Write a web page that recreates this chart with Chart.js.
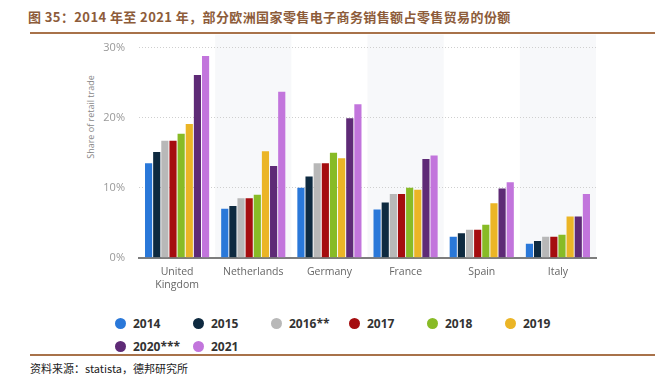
<!DOCTYPE html>
<html>
<head>
<meta charset="utf-8">
<script src="https://cdn.jsdelivr.net/npm/chart.js@4.4.0/dist/chart.umd.min.js"></script>
<style>
	body { margin: 0; width: 660px; height: 377px; background: #fff; position: relative; overflow: hidden; font-family: "Open Sans", sans-serif; }
	#title { position: absolute; left: 28px; top: 7px; font: bold 13px "Noto Sans CJK SC", sans-serif; color: #8d5c3a; letter-spacing: 0.4px; }
	.rule { position: absolute; left: 30px; width: 625px; height: 2px; background: #a8724a; }
	#box { position: absolute; left: 75px; top: 27px; width: 540px; height: 264px; }
	#ytitle { position: absolute; left: 90px; top: 117px; transform: translate(-50%, -50%) rotate(-90deg); font-size: 9px; color: #888; white-space: nowrap; }
	#legend { position: absolute; left: 115px; top: 315px; width: 480px; }
	.item { display: inline-block; width: 78px; height: 23px; font-weight: bold; font-size: 12px; color: #333; vertical-align: top; white-space: nowrap; }
	.dot { display: inline-block; width: 11px; height: 11px; border-radius: 50%; margin-right: 7px; vertical-align: -1px; }
	#source { position: absolute; left: 30px; top: 360px; font: 11px "Noto Sans CJK SC", sans-serif; color: #222; }
</style>
</head>
<body>
<div id="title">图 35：2014 年至 2021 年，部分欧洲国家零售电子商务销售额占零售贸易的份额</div>
<div class="rule" style="top:32px"></div>
<div id="ytitle">Share of retail trade</div>
<div id="box"><canvas id="chart"></canvas></div>
<div id="legend"></div>
<div class="rule" style="top:354px; height:1.5px"></div>
<div id="source">资料来源：statista，德邦研究所</div>
<script>
var countries = [['United', 'Kingdom'], 'Netherlands', 'Germany', 'France', 'Spain', 'Italy']
var years = ['2014', '2015', '2016**', '2017', '2018', '2019', '2020***', '2021']
var colors = ['#2a78d9', '#0e2a40', '#b8b8b8', '#a50d0f', '#88bb26', '#ebb526', '#5e2a76', '#c275dc']

// share of retail trade in %, one array per year, countries in order above
var share2014 = [13.5, 7.0, 10.0, 6.9, 3.0, 2.0]
var share2015 = [15.1, 7.4, 11.6, 7.9, 3.5, 2.4]
var share2016 = [16.7, 8.5, 13.5, 9.1, 4.0, 3.0]
var share2017 = [16.7, 8.5, 13.5, 9.1, 4.0, 3.0]
var share2018 = [17.7, 9.0, 15.0, 10.0, 4.7, 3.3]
var share2019 = [19.1, 15.2, 14.2, 9.7, 7.8, 5.9]
var share2020 = [26.1, 13.1, 19.9, 14.1, 9.9, 5.9]
var share2021 = [28.8, 23.7, 21.9, 14.6, 10.8, 9.1]
var yTicks = [0, 10, 20, 30]

var series = [share2014, share2015, share2016, share2017, share2018, share2019, share2020, share2021]

// light bands behind every second country
var bands = {
	id: 'bands',
	beforeDraw(chart) {
		var ctx = chart.ctx, x = chart.scales.x, area = chart.chartArea
		var w = (area.right - area.left) / countries.length
		ctx.save()
		ctx.fillStyle = '#f7f8fa'
		for (var i = 1; i < countries.length; i += 2) {
			var c = x.getPixelForValue(i)
			ctx.fillRect(c - w / 2, area.top - 13, w, area.bottom - area.top + 13)
		}
		ctx.restore()
	}
}

var legend = document.getElementById('legend')
legend.innerHTML = years.map((y, i) => `<span class="item"><span class="dot" style="background:${colors[i]}"></span>${y}</span>`).join('')

var ctx = document.getElementById('chart').getContext('2d')
var chart = new Chart(ctx, {
	type: 'bar',
	data: {
		labels: countries,
		datasets: years.map((y, i) => ({
			label: y,
			data: series[i],
			backgroundColor: colors[i],
			categoryPercentage: 0.855,
			barPercentage: 0.88
		}))
	},
	plugins: [bands],
	options: {
		animation: false,
		responsive: true,
		maintainAspectRatio: false,
		layout: { padding: { top: 2, right: 19, bottom: 0, left: 0 } },
		plugins: { legend: { display: false }, tooltip: { enabled: false } },
		scales: {
			x: {
				grid: { display: false },
				border: { display: true, color: '#7d7d7d', width: 2 },
				ticks: { color: '#666', font: { size: 10.5, family: 'Open Sans' }, padding: 0, maxRotation: 0, autoSkip: false }
			},
			y: {
				min: 0,
				max: 30,
				afterBuildTicks: scale => { scale.ticks = yTicks.map(v => ({ value: v })) },
				afterFit: scale => { scale.width = 64 },
				grid: {
					color: c => c.tick.value === 0 ? 'rgba(0,0,0,0)' : '#cfcfcf',
					drawTicks: false
				},
				border: { display: false, dash: [1, 2] },
				ticks: { color: '#999', font: { size: 11, family: 'Open Sans' }, padding: 14, callback: v => v + '%' }
			}
		}
	}
})
</script>
</body>
</html>
